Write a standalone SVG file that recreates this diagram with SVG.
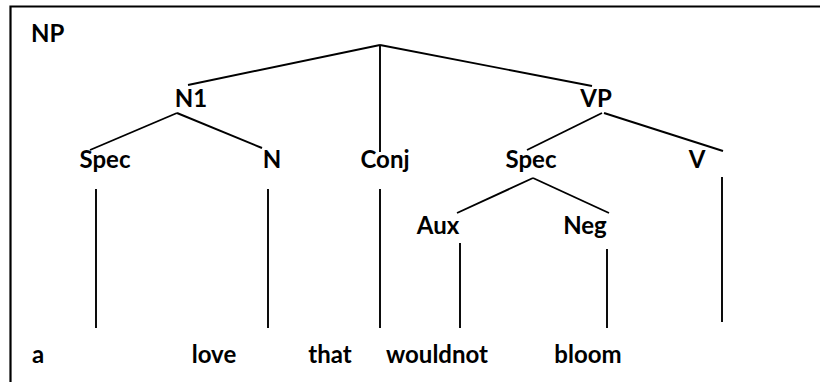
<svg xmlns="http://www.w3.org/2000/svg" width="820" height="382" viewBox="0 0 820 382">
<style>
text{font-family:Lato,"Liberation Sans",sans-serif;font-weight:bold;font-size:24px;fill:#000}
.c{text-anchor:middle}
.e{stroke:#000;stroke-width:1.9;fill:none}
</style>
<rect width="820" height="382" fill="#fff"/>
<path d="M10.5 382 V6.5 H820" stroke="#000" stroke-width="2.2" fill="none"/>
<g id="connectors">
<line class="e" x1="380" y1="45" x2="188" y2="85"/>
<line class="e" x1="380" y1="45" x2="592" y2="86"/>
<line class="e" x1="380" y1="45" x2="380" y2="152"/>
<line class="e" x1="177" y1="113" x2="90" y2="150"/>
<line class="e" x1="177" y1="113" x2="262" y2="148"/>
<line class="e" x1="602" y1="113" x2="527" y2="150"/>
<line class="e" x1="604" y1="113" x2="723" y2="151"/>
<line class="e" x1="533" y1="178" x2="457" y2="213"/>
<line class="e" x1="533" y1="178" x2="609" y2="213"/>
<line class="e" x1="96" y1="189" x2="96" y2="328"/>
<line class="e" x1="268" y1="189" x2="268" y2="328"/>
<line class="e" x1="380" y1="189" x2="380" y2="328"/>
<line class="e" x1="460" y1="243" x2="460" y2="328"/>
<line class="e" x1="607" y1="249" x2="607" y2="328"/>
<line class="e" x1="722" y1="177" x2="722" y2="322"/>
</g>
<g id="NP"><text x="31" y="42">NP</text></g>
<g id="N1"><text class="c" x="191" y="107">N1</text></g>
<g id="VP"><text class="c" x="596" y="107">VP</text></g>
<g id="Spec1"><text class="c" x="105" y="168">Spec</text></g>
<g id="N"><text class="c" x="272" y="168">N</text></g>
<g id="Conj"><text class="c" x="385" y="168">Conj</text></g>
<g id="Spec2"><text class="c" x="531" y="168">Spec</text></g>
<g id="V"><text class="c" x="697" y="168">V</text></g>
<g id="Aux"><text class="c" x="438" y="234">Aux</text></g>
<g id="Neg"><text class="c" x="585" y="234">Neg</text></g>
<g id="a"><text x="32" y="363">a</text></g>
<g id="love"><text class="c" x="214" y="363">love</text></g>
<g id="that"><text class="c" x="330" y="363">that</text></g>
<g id="wouldnot"><text class="c" x="437" y="363">wouldnot</text></g>
<g id="bloom"><text class="c" x="588" y="363">bloom</text></g>
</svg>
